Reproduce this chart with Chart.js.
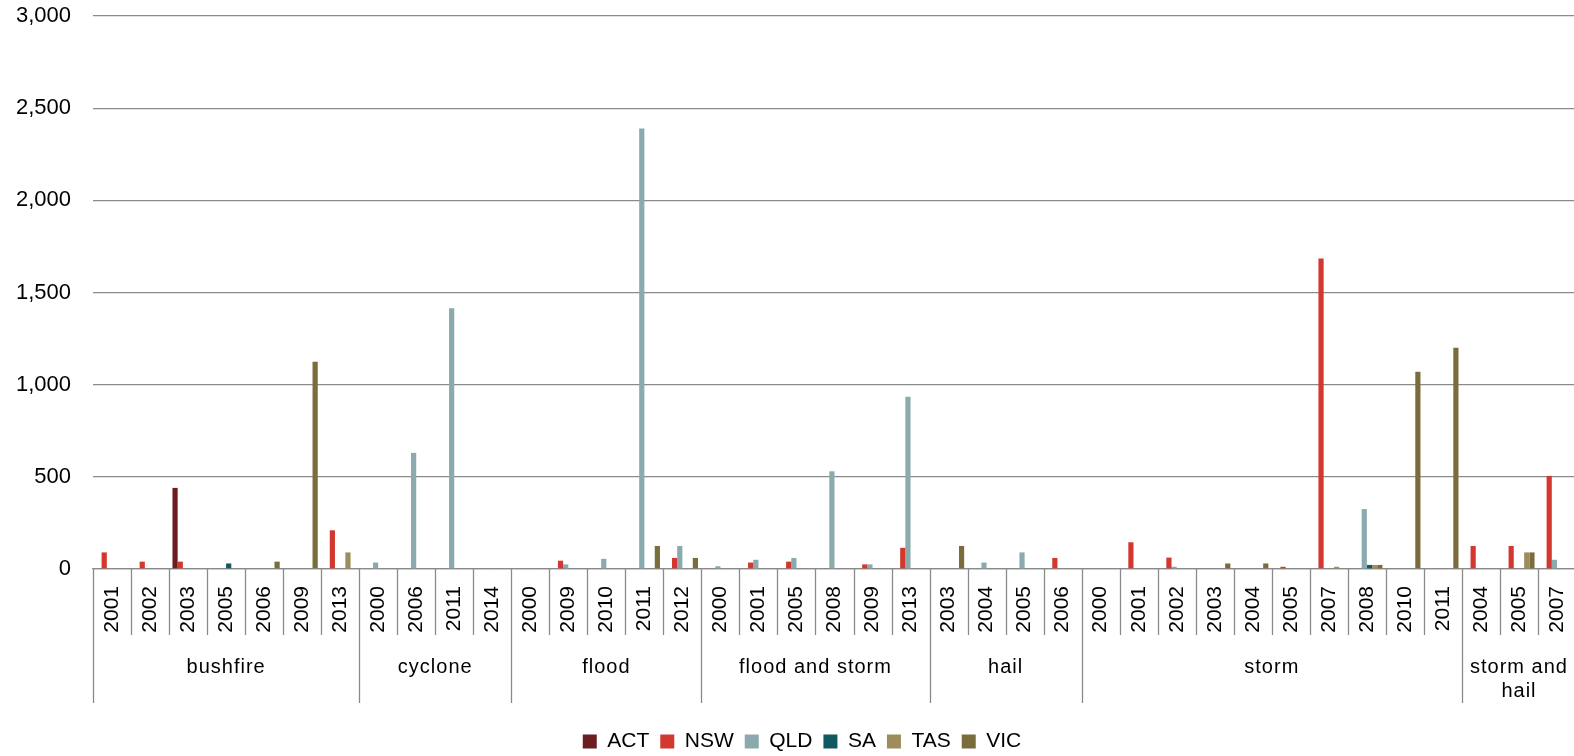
<!DOCTYPE html>
<html>
<head>
<meta charset="utf-8">
<script src="https://cdn.jsdelivr.net/npm/chart.js@4/dist/chart.umd.min.js"></script>
<style>
  html, body { margin: 0; padding: 0; background: #fff; overflow: hidden; }
  #wrap { width: 1574px; height: 756px; overflow: hidden; position: relative; }
  canvas { display: block; }
</style>
</head>
<body>
<div id="wrap"><canvas id="c" width="1604" height="762"></canvas></div>
<script>
// ---- Data ----
const hazardGroups = ['bushfire', 'cyclone', 'flood', 'flood and storm', 'hail', 'storm', 'storm and hail'];
const groupSizes = [7, 4, 5, 6, 4, 10, 3];
const yearLabels = [
  '2001','2002','2003','2005','2006','2009','2013',
  '2000','2006','2011','2014',
  '2000','2009','2010','2011','2012',
  '2000','2001','2005','2008','2009','2013',
  '2003','2004','2005','2006',
  '2000','2001','2002','2003','2004','2005','2007','2008','2010','2011',
  '2004','2005','2007'
];
const _ = null;
const actValues = [
  _,_,440,_,_,_,_,
  _,_,_,_,
  _,_,_,_,_,
  _,_,_,_,_,_,
  _,_,_,_,
  _,_,_,_,_,_,_,_,_,_,
  _,_,_
];
const nswValues = [
  90,40,40,_,_,_,210,
  _,_,_,_,
  _,45,_,_,60,
  _,35,40,3,25,115,
  _,_,_,60,
  _,145,62,3,_,12,1685,_,_,_,
  125,125,505
];
const qldValues = [
  _,_,_,_,_,_,_,
  35,630,1415,4,
  4,25,55,2390,125,
  15,50,60,530,25,935,
  _,35,90,_,
  _,_,12,_,_,_,_,325,_,_,
  _,_,50
];
const saValues = [
  _,_,_,30,_,_,_,
  _,_,_,_,
  _,_,_,_,_,
  _,_,_,_,_,_,
  _,_,_,_,
  _,_,_,_,_,_,_,22,_,_,
  _,_,_
];
const tasValues = [
  _,_,_,_,_,_,90,
  _,_,_,_,
  _,_,_,_,_,
  _,_,_,_,_,_,
  _,_,_,_,
  _,_,_,_,_,_,12,22,_,_,
  _,90,_
];
const vicValues = [
  _,_,_,_,40,1125,_,
  _,_,_,_,
  _,_,_,125,60,
  _,_,_,_,_,_,
  125,_,_,_,
  4,_,_,30,30,_,_,22,1070,1200,
  _,90,_
];
const seriesNames = ['ACT', 'NSW', 'QLD', 'SA', 'TAS', 'VIC'];
const seriesColors = ['#6B1D22', '#D2382F', '#8AAAAD', '#0F5960', '#9D8D5B', '#7B6C3C'];
const yTicks = [0, 500, 1000, 1500, 2000, 2500, 3000];

// ---- Chart ----
const FONT = '"Liberation Sans", Arial, sans-serif';
const GRID = '#8a8a8a';

const groupAxisPlugin = {
  id: 'groupAxis',
  afterDraw(chart) {
    const xs = chart.scales.x;
    const ctx = chart.ctx;
    const n = yearLabels.length;
    const step = xs.getPixelForValue(1) - xs.getPixelForValue(0);
    const bound = i => xs.getPixelForValue(i) - step / 2;
    const top = xs.top;
    const starts = new Set();
    let acc = 0;
    groupSizes.forEach(s => { starts.add(acc); acc += s; });
    starts.add(acc);
    ctx.save();
    ctx.strokeStyle = GRID;
    ctx.lineWidth = 1.3;
    for (let i = 0; i <= n; i++) {
      const px = Math.round(bound(i)) + 0.5;
      const long = starts.has(i);
      ctx.beginPath();
      ctx.moveTo(px, top);
      ctx.lineTo(px, top + (long ? 134 : 66));
      ctx.stroke();
    }
    ctx.fillStyle = '#000';
    ctx.font = '20px ' + FONT;
    ctx.textAlign = 'center';
    ctx.textBaseline = 'alphabetic';
    try { ctx.letterSpacing = '1px'; } catch (e) {}
    acc = 0;
    hazardGroups.forEach((name, gi) => {
      const l = bound(acc), r = bound(acc + groupSizes[gi]);
      acc += groupSizes[gi];
      const maxW = r - l - 6;
      const words = name.split(' ');
      const lines = [];
      let cur = '';
      words.forEach(w => {
        const t = cur ? cur + ' ' + w : w;
        if (cur && ctx.measureText(t).width > maxW) { lines.push(cur); cur = w; }
        else cur = t;
      });
      if (cur) lines.push(cur);
      lines.forEach((ln, li) => {
        ctx.fillText(ln, (l + r) / 2, top + 104 + li * 24);
      });
    });
    ctx.restore();
  }
};

const valueSets = [actValues, nswValues, qldValues, saValues, tasValues, vicValues];

new Chart(document.getElementById('c'), {
  type: 'bar',
  data: {
    labels: yearLabels,
    datasets: seriesNames.map((nm, i) => ({
      label: nm,
      data: valueSets[i],
      backgroundColor: seriesColors[i],
      borderWidth: 0,
      categoryPercentage: 0.82,
      barPercentage: 1.0
    }))
  },
  options: {
    responsive: false,
    animation: false,
    devicePixelRatio: 1,
    layout: { padding: { top: 16, left: 0, right: 0, bottom: 0 } },
    plugins: {
      legend: {
        position: 'bottom',
        labels: {
          boxWidth: 14,
          boxHeight: 14,
          padding: 11,
          color: '#000',
          font: { size: 21, family: FONT }
        }
      },
      tooltip: { enabled: false },
      title: { display: false }
    },
    scales: {
      x: {
        type: 'category',
        grid: { display: false, drawTicks: false },
        border: { display: true, color: GRID, width: 1.3 },
        ticks: {
          autoSkip: false,
          minRotation: 90,
          maxRotation: 90,
          padding: 17,
          color: '#000',
          font: { size: 21, family: FONT }
        },
        afterFit: s => { s.height = 151; }
      },
      y: {
        min: 0,
        max: 3000,
        afterBuildTicks: s => { s.ticks = yTicks.map(v => ({ value: v })); },
        grid: { color: GRID, lineWidth: 1.3, drawTicks: true, tickLength: 20, tickColor: 'rgba(0,0,0,0)' },
        border: { display: false },
        ticks: {
          padding: 2,
          color: '#000',
          font: { size: 22, family: FONT },
          callback: v => Number(v).toLocaleString('en-US')
        },
        afterFit: s => { s.width = 93; }
      },
      y2: {
        type: 'linear',
        position: 'right',
        display: true,
        grid: { display: false, drawTicks: false },
        border: { display: false },
        ticks: { display: false },
        afterFit: s => { s.width = 28; }
      }
    }
  },
  plugins: [groupAxisPlugin]
});
</script>
</body>
</html>
